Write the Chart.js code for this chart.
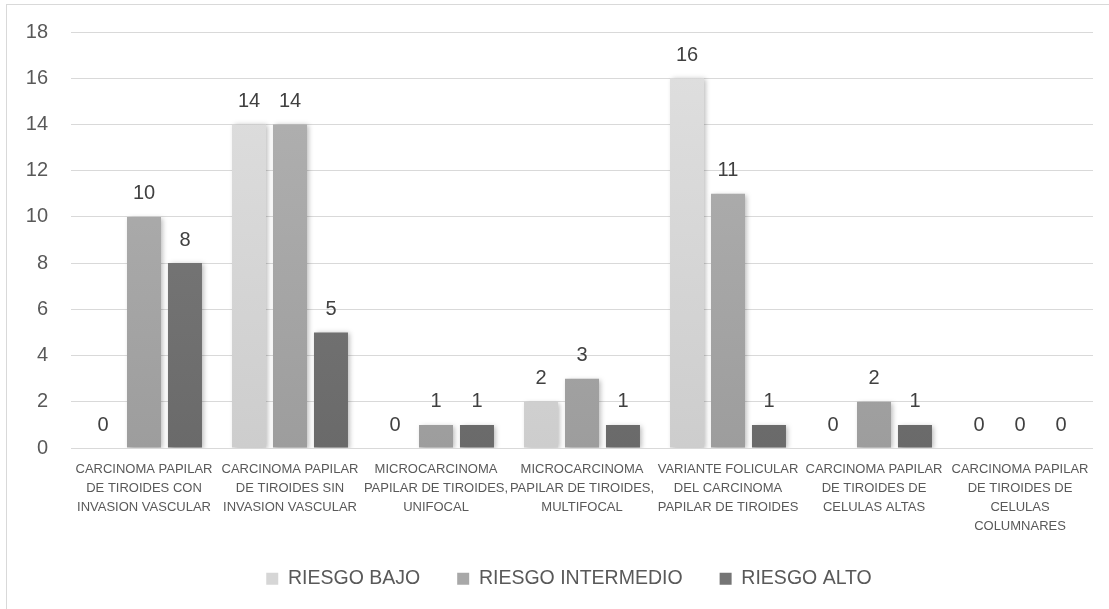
<!DOCTYPE html>
<html lang="es">
<head>
<meta charset="utf-8">
<title>Riesgo por tipo histológico</title>
<script src="https://cdn.jsdelivr.net/npm/chart.js@4/dist/chart.umd.min.js"></script>
<style>
  html, body { margin: 0; padding: 0; background: #ffffff; }
  #wrap { width: 1109px; height: 609px; position: relative; }
</style>
</head>
<body>
<div id="wrap"><canvas id="chart" width="1109" height="609"></canvas></div>
<script>
// Histological categories (x axis), one label line per array entry
const categories = [
  ["CARCINOMA PAPILAR", "DE TIROIDES CON", "INVASION VASCULAR"],
  ["CARCINOMA PAPILAR", "DE TIROIDES SIN", "INVASION VASCULAR"],
  ["MICROCARCINOMA", "PAPILAR DE TIROIDES,", "UNIFOCAL"],
  ["MICROCARCINOMA", "PAPILAR DE TIROIDES,", "MULTIFOCAL"],
  ["VARIANTE FOLICULAR", "DEL CARCINOMA", "PAPILAR DE TIROIDES"],
  ["CARCINOMA PAPILAR", "DE TIROIDES DE", "CELULAS ALTAS"],
  ["CARCINOMA PAPILAR", "DE TIROIDES DE", "CELULAS", "COLUMNARES"]
];

// Cases per risk group
const riesgoBajo       = [0, 14, 0, 2, 16, 0, 0];
const riesgoIntermedio = [10, 14, 1, 3, 11, 2, 0];
const riesgoAlto       = [8, 5, 1, 1, 1, 1, 0];

const seriesNames = ["RIESGO BAJO", "RIESGO INTERMEDIO", "RIESGO ALTO"];

// Y axis range and step
const yMin = 0;
const yMax = 18;
const yStep = 2;

const FONT = "'Liberation Sans', Arial, sans-serif";
const TEXT = "#595959";

// Vertical gradient per series (lighter at top)
const palette = [
  { top: "#e0e0e0", bottom: "#cdcdcd", flat: "#d6d6d6" },
  { top: "#b3b3b3", bottom: "#9d9d9d", flat: "#a8a8a8" },
  { top: "#7f7f7f", bottom: "#6a6a6a", flat: "#757575" }
];

function gradientFor(i) {
  return function (ctx) {
    const chart = ctx.chart;
    const area = chart.chartArea;
    if (!area) return palette[i].flat;
    const g = chart.ctx.createLinearGradient(0, area.top, 0, area.bottom);
    g.addColorStop(0, palette[i].top);
    g.addColorStop(1, palette[i].bottom);
    return g;
  };
}

// Legend band: compact height in the layout, placed under the axis labels
const legendBand = {
  id: "legendBand",
  afterInit(chart) {
    const lg = chart.legend;
    if (!lg || lg._bandPatched) return;
    const fit = lg.fit.bind(lg);
    lg.fit = function () {
      fit();
      this.height = 40;
    };
    lg._bandPatched = true;
  },
  beforeDraw(chart) {
    const lg = chart.legend;
    if (!lg) return;
    lg.left = 45;
    lg.right = chart.chartArea.right;
    lg.top = 532;
    lg.bottom = chart.height;
    lg.width = lg.right - lg.left;
    lg.height = lg.bottom - lg.top;
  }
};

// Outer frame and background
const framePlugin = {
  id: "frame",
  beforeDraw(chart) {
    const c = chart.ctx;
    c.save();
    c.fillStyle = "#ffffff";
    c.fillRect(0, 0, chart.width, chart.height);
    c.strokeStyle = "#d9d9d9";
    c.lineWidth = 1;
    c.strokeRect(6.5, 4.5, chart.width + 10, chart.height + 10);
    c.restore();
  }
};

// Soft shadow behind the bars
const shadowPlugin = {
  id: "barShadow",
  beforeDatasetsDraw(chart) {
    const c = chart.ctx;
    c.save();
    c.shadowColor = "rgba(0,0,0,0.28)";
    c.shadowBlur = 5;
    c.shadowOffsetX = 2;
    c.shadowOffsetY = 1;
  },
  afterDatasetsDraw(chart) {
    chart.ctx.restore();
  }
};

// Value labels above each bar
const valueLabels = {
  id: "valueLabels",
  afterDatasetsDraw(chart) {
    const c = chart.ctx;
    c.save();
    c.font = "20px " + FONT;
    c.fillStyle = "#404040";
    c.textAlign = "center";
    c.textBaseline = "middle";
    chart.data.datasets.forEach((ds, di) => {
      const meta = chart.getDatasetMeta(di);
      meta.data.forEach((bar, i) => {
        c.fillText(String(ds.data[i]), bar.x, bar.y - 23);
      });
    });
    c.restore();
  }
};

new Chart(document.getElementById("chart"), {
  type: "bar",
  data: {
    labels: categories,
    datasets: [riesgoBajo, riesgoIntermedio, riesgoAlto].map((vals, i) => ({
      label: seriesNames[i],
      data: vals,
      backgroundColor: gradientFor(i),
      borderWidth: 0,
      categoryPercentage: 0.842,
      barPercentage: 0.83
    }))
  },
  options: {
    responsive: false,
    animation: false,
    devicePixelRatio: 1,
    layout: { padding: { top: 32, right: 16, bottom: 39, left: 0 } },
    plugins: {
      tooltip: { enabled: false },
      legend: {
        position: "bottom",
        labels: {
          font: { family: FONT, size: 19.5 },
          color: TEXT,
          boxWidth: 12,
          boxHeight: 12,
          padding: 37,
          generateLabels(chart) {
            return chart.data.datasets.map((ds, i) => ({
              text: ds.label,
              fillStyle: palette[i].flat,
              strokeStyle: palette[i].flat,
              lineWidth: 0,
              fontColor: TEXT,
              datasetIndex: i,
              hidden: false
            }));
          }
        }
      }
    },
    scales: {
      x: {
        grid: { display: false, drawTicks: false },
        border: { display: false },
        ticks: {
          font: { family: FONT, size: 13, lineHeight: 1.46 },
          color: TEXT,
          padding: 12,
          maxRotation: 0,
          minRotation: 0,
          autoSkip: false
        },
        afterFit(scale) {
          scale.height = 82;
          scale.paddingLeft = 0;
          scale.paddingRight = 0;
        }
      },
      y: {
        min: yMin,
        max: yMax,
        grid: { color: "#d9d9d9", lineWidth: 1, drawTicks: false },
        border: { display: false },
        ticks: {
          stepSize: yStep,
          font: { family: FONT, size: 20 },
          color: TEXT,
          padding: 23
        },
        afterFit(scale) {
          scale.width = 71;
          scale.paddingTop = 0;
          scale.paddingBottom = 0;
        }
      }
    }
  },
  plugins: [framePlugin, legendBand, shadowPlugin, valueLabels]
});
</script>
</body>
</html>
